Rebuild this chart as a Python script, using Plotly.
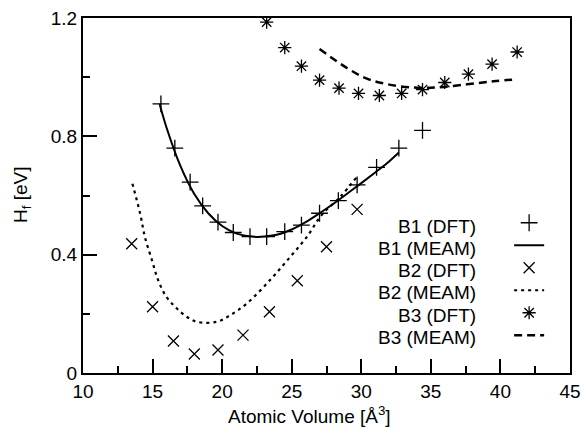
import plotly.graph_objects as go

FONT = 'Liberation Sans, Arial, sans-serif'

# B1
b1_dft_x = [15.6, 16.6, 17.7, 18.6, 19.7, 20.8, 22.0, 23.2, 24.5, 25.7, 27.0, 28.35, 29.7, 31.1, 32.7, 34.4]
b1_dft_y = [0.91, 0.76, 0.645, 0.565, 0.51, 0.475, 0.461, 0.461, 0.478, 0.50, 0.54, 0.583, 0.636, 0.695, 0.76, 0.82]
b1_meam_x = [15.5, 16.0, 17.0, 18.0, 19.0, 20.0, 21.0, 22.0, 22.5, 23.0, 24.0, 25.0, 26.0, 27.0, 28.0, 29.0, 30.0, 31.0, 32.0, 32.7]
b1_meam_y = [0.91, 0.83, 0.70, 0.605, 0.54, 0.497, 0.472, 0.462, 0.460, 0.461, 0.468, 0.485, 0.51, 0.54, 0.572, 0.607, 0.642, 0.678, 0.715, 0.745]

# B2
b2_dft_x = [13.5, 15.0, 16.5, 18.0, 19.7, 21.5, 23.4, 25.4, 27.5, 29.7]
b2_dft_y = [0.437, 0.224, 0.108, 0.064, 0.078, 0.128, 0.207, 0.312, 0.427, 0.553]
b2_meam_x = [13.55, 14.1, 14.45, 14.95, 15.4, 16.0, 16.75, 17.45, 18.2, 19.6, 20.6, 21.8, 23.55, 24.9, 26.1, 27.15, 28.5, 29.7]
b2_meam_y = [0.64, 0.54, 0.46, 0.382, 0.314, 0.257, 0.218, 0.19, 0.173, 0.173, 0.196, 0.236, 0.32, 0.393, 0.461, 0.534, 0.596, 0.664]

# B3
b3_dft_x = [23.2, 24.5, 25.7, 27.0, 28.4, 29.8, 31.3, 32.9, 34.4, 36.0, 37.7, 39.4, 41.2]
b3_dft_y = [1.186, 1.10, 1.037, 0.99, 0.963, 0.945, 0.938, 0.945, 0.958, 0.982, 1.01, 1.044, 1.085]
b3_meam_x = [27.0, 29.0, 30.4, 31.9, 33.7, 35.4, 37.6, 39.5, 41.2]
b3_meam_y = [1.095, 1.03, 0.995, 0.976, 0.965, 0.965, 0.976, 0.986, 0.993]

legend_labels = ['B1 (DFT)', 'B1 (MEAM)', 'B2 (DFT)', 'B2 (MEAM)', 'B3 (DFT)', 'B3 (MEAM)']


def marker_trace(x, y, symbol, size):
    return go.Scatter(
        x=x, y=y, mode='markers', name='',
        marker=dict(symbol=symbol, size=size, color='black',
                    line=dict(color='black', width=1.3)),
    )


def line_trace(x, y, dash, width):
    return go.Scatter(
        x=x, y=y, mode='lines', name='', line_shape='spline',
        line=dict(color='black', width=width, dash=dash),
    )


fig = go.Figure()
fig.add_trace(marker_trace(b1_dft_x, b1_dft_y, 'cross-thin', 12))
fig.add_trace(line_trace(b1_meam_x, b1_meam_y, 'solid', 2))
fig.add_trace(marker_trace(b2_dft_x, b2_dft_y, 'x-thin', 11))
fig.add_trace(line_trace(b2_meam_x, b2_meam_y, '3px,4px', 2.2))
fig.add_trace(marker_trace(b3_dft_x, b3_dft_y, 'asterisk', 11))
fig.add_trace(line_trace(b3_meam_x, b3_meam_y, '8px,5px', 2.5))

# plot area in page pixels
PX_L, PX_R, PX_T, PX_B = 83, 570, 18, 373
px_x = lambda px: (px - PX_L) / (PX_R - PX_L)
px_y = lambda py: (PX_B - py) / (PX_B - PX_T)

# legend text sits left of the symbols, as in the original
for i, label in enumerate(legend_labels):
    fig.add_annotation(
        text=label, xref='paper', yref='paper',
        x=px_x(478), y=px_y(226 + 22.3 * i), xanchor='right', yanchor='middle',
        showarrow=False, font=dict(size=19, color='black', family=FONT),
    )

fig.add_annotation(
    text='Atomic Volume [Å<sup>3</sup>]', xref='paper', yref='paper',
    x=px_x(309), y=px_y(415), xanchor='center', yanchor='middle',
    showarrow=False, font=dict(size=19, color='black', family=FONT),
)
fig.add_annotation(
    text='H<sub>f</sub> [eV]', xref='paper', yref='paper', textangle=-90,
    x=px_x(22), y=px_y(195), xanchor='center', yanchor='middle',
    showarrow=False, font=dict(size=19, color='black', family=FONT),
)

axis_common = dict(
    showline=True, linecolor='black', linewidth=2, mirror=True,
    ticks='inside', ticklen=14, tickwidth=2, tickcolor='black',
    showgrid=False, zeroline=False, automargin=False,
    tickfont=dict(size=19, color='black', family=FONT),
)

fig.update_xaxes(
    range=[10, 45], tick0=10, dtick=5,
    minor=dict(ticks='inside', ticklen=7, tickwidth=2, tickcolor='black', dtick=2.5, tick0=10),
    **axis_common,
)
fig.update_yaxes(
    range=[0, 1.2], tick0=0, dtick=0.4,
    minor=dict(ticks='inside', ticklen=7, tickwidth=2, tickcolor='black', dtick=0.2, tick0=0),
    **axis_common,
)

fig.update_layout(
    width=587, height=432,
    margin=dict(l=PX_L, r=587 - PX_R, t=PX_T, b=432 - PX_B),
    paper_bgcolor='white', plot_bgcolor='white',
    showlegend=True,
    legend=dict(
        x=0.875, y=0.469, xanchor='left', yanchor='top',
        bgcolor='rgba(0,0,0,0)', font=dict(size=15, family=FONT),
        itemwidth=30,
    ),
)

fig.write_html('out.html', config={'displayModeBar': False},
               post_script="document.body.style.margin='0px';")
